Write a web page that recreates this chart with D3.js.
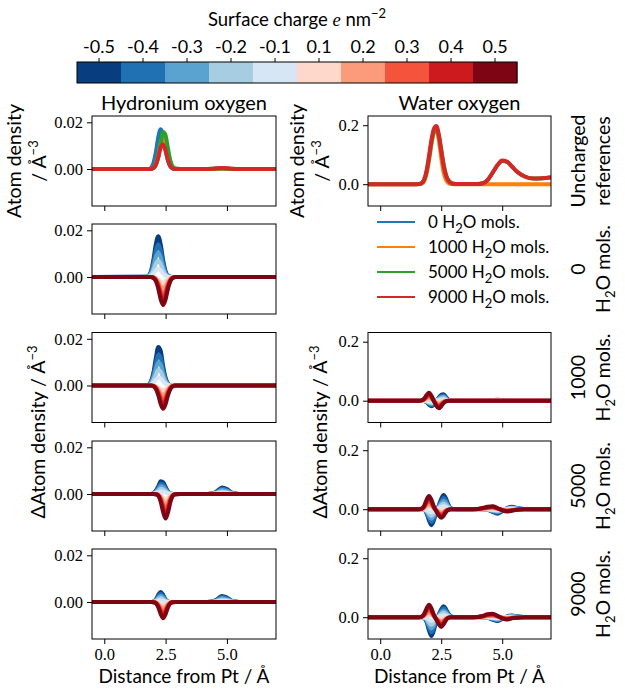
<!DOCTYPE html>
<html>
<head>
<meta charset="utf-8">
<script src="https://cdn.jsdelivr.net/npm/d3@7"></script>
<style>
  body { margin: 0; background: #fff; }
</style>
</head>
<body>
<svg id="chart" width="625" height="695"></svg>
<script>
// ---- data (densities in 10^-3 Å^-3) ----
const charges = [-0.5, -0.4, -0.3, -0.2, -0.1, 0.1, 0.2, 0.3, 0.4, 0.5];
const cbTickLabels = ['-0.5', '-0.4', '-0.3', '-0.2', '-0.1', '0.1', '0.2', '0.3', '0.4', '0.5'];
const chargeColors = ['#083d7f', '#2070b4', '#5aa2cf', '#a6cde2', '#d6e6f4',
                      '#fed9cb', '#fc9b7c', '#f5543c', '#cc1a1e', '#7e0614'];
const waterCounts = ['0', '1000', '5000', '9000'];
const refColors = ['#1f77b4', '#ff7f0e', '#2ca02c', '#d62728'];

const xTicks = [0, 2.5, 5];
const xTickLabels = ['0.0', '2.5', '5.0'];
const hydTicks = [0, 20];
const hydTickLabels = ['0.00', '0.02'];
const watTicks = [0, 200];
const watTickLabels = ['0.0', '0.2'];

// distance grids (Å)
const gridL1 = [-0.5, 1.7, 1.8, 1.9, 2.0, 2.1, 2.2, 2.3, 2.4, 2.5, 2.6, 2.7, 2.8, 2.9, 3.1, 7.0];
const gridL2 = [-0.5, 1.7, 1.8, 1.9, 2.0, 2.1, 2.2, 2.3, 2.4, 2.5, 2.6, 2.7, 2.8, 2.9, 3.1,
                4.2, 4.4, 4.6, 4.8, 5.0, 5.2, 5.4, 5.6, 7.0];
const gridR = [-0.5, 1.4, 1.6, 1.7, 1.8, 1.9, 2.0, 2.1, 2.2, 2.3, 2.4, 2.5, 2.6, 2.7, 2.8, 2.9, 3.0, 3.2, 3.6,
               4.0, 4.2, 4.4, 4.6, 4.8, 5.0, 5.2, 5.4, 5.6, 5.9, 6.3, 7.0];

// uncharged references, one curve per water count (no water curve for 0 mols.)
const hydRef = [
  [0, 0, 0, 0.5, 2.4, 7.0, 13.6, 17.0, 14.5, 8.5, 3.4, 0.9, 0.2, 0, 0, 0, 0, 0.1, 0.2, 0.1, 0, 0, 0, 0],
  [0, 0, 0, 0.1, 0.4, 2.0, 5.7, 11.2, 14.0, 11.2, 5.7, 2.0, 0.4, 0.1, 0, 0, 0, 0.1, 0.2, 0.1, 0, 0, 0, 0],
  [0, 0, 0, 0, 0.4, 1.6, 5.0, 10.8, 15.8, 14.4, 8.6, 3.4, 0.9, 0.2, 0, 0, 0.1, 0.2, 0.3, 0.2, 0.1, 0, 0, 0],
  [0, 0, 0, 0.1, 0.4, 1.8, 4.9, 9.2, 10.5, 7.6, 3.6, 1.1, 0.2, 0, 0, 0, 0.1, 0.3, 0.4, 0.3, 0.1, 0, 0, 0]
];
const watRef = [
  null,
  [0, 0, 0.3, 2, 10, 35, 80, 135, 175, 185, 150, 90, 40, 14, 4, 1, 0, 0, 0,  0, 0, 0, 0, 0, 0, 0, 0, 0, 0, 0, 0],
  [0, 0, 1, 4, 14, 42, 88, 140, 178, 186, 165, 118, 68, 32, 13, 5, 2, 0.5, 1,  1, 3, 14, 38, 63, 79, 76, 60, 43, 27, 19, 23],
  [0, 0, 1, 4, 15, 45, 95, 150, 188, 197, 170, 115, 62, 28, 11, 4, 1.5, 0.5, 1,  1, 3, 14, 38, 64, 80, 76, 60, 43, 27, 19, 24]
];

// charged minus uncharged, one curve per surface charge
const hydDelta0 = [
  [0, 0.1, 0.5, 2.4, 7.2, 14.0, 17.5, 14.0, 7.2, 2.4, 0.5, 0.1, 0, 0, 0, 0],
  [0, 0.1, 0.4, 1.9, 5.8, 11.2, 14.0, 11.2, 5.8, 1.9, 0.4, 0.1, 0, 0, 0, 0],
  [0, 0, 0.3, 1.4, 4.3, 8.4, 10.5, 8.4, 4.3, 1.4, 0.3, 0, 0, 0, 0, 0],
  [0, 0, 0.2, 1.0, 2.9, 5.6, 7.0, 5.6, 2.9, 1.0, 0.2, 0, 0, 0, 0, 0],
  [0, 0, 0.1, 0.5, 1.4, 2.8, 3.5, 2.8, 1.4, 0.5, 0.1, 0, 0, 0, 0, 0],
  [0, 0, 0, 0, -0.1, -0.3, -1.0, -1.9, -2.4, -1.9, -1.0, -0.3, -0.1, 0, 0, 0],
  [0, 0, 0, 0, -0.1, -0.7, -2.0, -3.8, -4.8, -3.8, -2.0, -0.7, -0.1, 0, 0, 0],
  [0, 0, 0, 0, -0.2, -1.0, -3.0, -5.8, -7.2, -5.8, -3.0, -1.0, -0.2, 0, 0, 0],
  [0, 0, 0, 0, -0.3, -1.3, -3.9, -7.7, -9.6, -7.7, -3.9, -1.3, -0.3, 0, 0, 0],
  [0, 0, 0, 0, -0.4, -1.7, -4.9, -9.6, -12.0, -9.6, -4.9, -1.7, -0.4, 0, 0, 0]
];
const hydDelta1000 = [
  [0, 0, 0.3, 1.7, 5.4, 11.6, 16.5, 14.9, 8.3, 3.3, 0.8, 0.1, 0, 0, 0, 0],
  [0, 0, 0.2, 1.4, 4.3, 9.3, 13.2, 11.9, 6.6, 2.6, 0.6, 0.1, 0, 0, 0, 0],
  [0, 0, 0.2, 1.0, 3.2, 7.0, 9.9, 8.9, 5.0, 2.0, 0.5, 0, 0, 0, 0, 0],
  [0, 0, 0.1, 0.7, 2.2, 4.6, 6.6, 6.0, 3.3, 1.3, 0.3, 0, 0, 0, 0, 0],
  [0, 0, 0.1, 0.3, 1.1, 2.3, 3.3, 3.0, 1.7, 0.7, 0.2, 0, 0, 0, 0, 0],
  [0, 0, 0, 0, 0, -0.3, -0.8, -1.6, -2.0, -1.6, -0.8, -0.3, 0, 0, 0, 0],
  [0, 0, 0, 0, -0.1, -0.6, -1.6, -3.2, -4.0, -3.2, -1.6, -0.6, -0.1, 0, 0, 0],
  [0, 0, 0, 0, -0.2, -0.8, -2.5, -4.8, -6.0, -4.8, -2.5, -0.8, -0.2, 0, 0, 0],
  [0, 0, 0, 0, -0.2, -1.1, -3.3, -6.4, -8.0, -6.4, -3.3, -1.1, -0.2, 0, 0, 0],
  [0, 0, 0, 0, -0.3, -1.4, -4.1, -8.0, -10.0, -8.0, -4.1, -1.4, -0.3, 0, 0, 0]
];
const hydDelta5000 = [
  [0, 0, 0, 0, 0.3, 1.4, 3.3, 5.5, 5.0, 3.0, 1.1, 0.3, 0, 0, 0,  0, 0.2, 1.3, 2.8, 2.1, 0.6, 0.1, 0, 0],
  [0, 0, 0, 0, 0.2, 1.1, 2.6, 4.4, 4.0, 2.4, 0.9, 0.2, 0, 0, 0,  0, 0.2, 1.0, 2.2, 1.7, 0.5, 0.1, 0, 0],
  [0, 0, 0, 0, 0.2, 0.8, 2.0, 3.3, 3.0, 1.8, 0.7, 0.2, 0, 0, 0,  0, 0.1, 0.8, 1.7, 1.3, 0.4, 0.1, 0, 0],
  [0, 0, 0, 0, 0.1, 0.6, 1.3, 2.2, 2.0, 1.2, 0.4, 0.1, 0, 0, 0,  0, 0.1, 0.5, 1.1, 0.8, 0.2, 0, 0, 0],
  [0, 0, 0, 0, 0.1, 0.3, 0.7, 1.1, 1.0, 0.6, 0.2, 0.1, 0, 0, 0,  0, 0, 0.3, 0.6, 0.4, 0.1, 0, 0, 0],
  [0, 0, 0, 0, 0, 0, -0.1, -0.7, -1.6, -2.1, -1.6, -0.7, -0.1, 0, 0,  0, 0, 0, 0, 0, 0, 0, 0, 0],
  [0, 0, 0, 0, 0, 0, -0.3, -1.3, -3.1, -4.2, -3.1, -1.3, -0.3, 0, 0,  0, 0, 0, 0, 0, 0, 0, 0, 0],
  [0, 0, 0, 0, 0, -0.1, -0.4, -2.0, -4.7, -6.3, -4.7, -2.0, -0.4, -0.1, 0,  0, 0, 0, 0, 0, 0, 0, 0, 0],
  [0, 0, 0, 0, 0, -0.1, -0.6, -2.6, -6.2, -8.4, -6.2, -2.6, -0.6, -0.1, 0,  0, 0, 0, 0, 0, 0, 0, 0, 0],
  [0, 0, 0, 0, 0, -0.1, -0.7, -3.3, -7.8, -10.5, -7.8, -3.3, -0.7, -0.1, 0,  0, 0, 0, 0, 0, 0, 0, 0, 0]
];
const hydDelta9000 = [
  [0, 0, 0, 0, 0.2, 1.1, 3.1, 4.3, 3.1, 1.1, 0.2, 0, 0, 0, 0,  0, 0.2, 1.2, 2.6, 1.9, 0.6, 0.1, 0, 0],
  [0, 0, 0, 0, 0.2, 0.9, 2.5, 3.4, 2.5, 0.9, 0.2, 0, 0, 0, 0,  0, 0.2, 1.0, 2.1, 1.5, 0.5, 0.1, 0, 0],
  [0, 0, 0, 0, 0.1, 0.7, 1.9, 2.6, 1.9, 0.7, 0.1, 0, 0, 0, 0,  0, 0.1, 0.7, 1.6, 1.1, 0.4, 0, 0, 0],
  [0, 0, 0, 0, 0.1, 0.4, 1.2, 1.7, 1.2, 0.4, 0.1, 0, 0, 0, 0,  0, 0.1, 0.5, 1.0, 0.8, 0.2, 0, 0, 0],
  [0, 0, 0, 0, 0, 0.2, 0.6, 0.9, 0.6, 0.2, 0, 0, 0, 0, 0,  0, 0, 0.2, 0.5, 0.4, 0.1, 0, 0, 0],
  [0, 0, 0, 0, 0, -0.1, -0.4, -1.0, -1.4, -1.0, -0.4, -0.1, 0, 0, 0,  0, 0, 0, 0, 0, 0, 0, 0, 0],
  [0, 0, 0, 0, 0, -0.2, -0.9, -2.1, -2.8, -2.1, -0.9, -0.2, 0, 0, 0,  0, 0, 0, 0, 0, 0, 0, 0, 0],
  [0, 0, 0, 0, 0, -0.3, -1.3, -3.1, -4.2, -3.1, -1.3, -0.3, 0, 0, 0,  0, 0, 0, 0, 0, 0, 0, 0, 0],
  [0, 0, 0, 0, -0.1, -0.4, -1.8, -4.2, -5.6, -4.2, -1.8, -0.4, -0.1, 0, 0,  0, 0, 0, 0, 0, 0, 0, 0, 0],
  [0, 0, 0, 0, -0.1, -0.5, -2.2, -5.2, -7.0, -5.2, -2.2, -0.5, -0.1, 0, 0,  0, 0, 0, 0, 0, 0, 0, 0, 0]
];
const watDelta1000 = [
  [0, 0, 0, 0, -1, -5, -14, -19, -13, -1, 10, 20, 22, 12, 3, 1, 0, 0, 0,  0, 0, 0.3, 1.5, 3, 2, 0.5, 0, 0, 0, 0, 0],
  [0, 0, 0, 0, -1, -4, -11, -15, -10, -1, 8, 16, 18, 10, 2, 1, 0, 0, 0,  0, 0, 0.2, 1.2, 2.4, 1.6, 0.4, 0, 0, 0, 0, 0],
  [0, 0, 0, 0, -1, -3, -8, -11, -8, -1, 6, 12, 13, 7, 2, 1, 0, 0, 0,  0, 0, 0.2, 0.9, 1.8, 1.2, 0.3, 0, 0, 0, 0, 0],
  [0, 0, 0, 0, 0, -2, -6, -8, -5, 0, 4, 8, 9, 5, 1, 0, 0, 0, 0,  0, 0, 0.1, 0.6, 1.2, 0.8, 0.2, 0, 0, 0, 0, 0],
  [0, 0, 0, 0, 0, -1, -3, -4, -3, 0, 2, 4, 4, 2, 1, 0, 0, 0, 0,  0, 0, 0, 0.3, 0.6, 0.4, 0.1, 0, 0, 0, 0, 0],
  [0, 0, 0, 0, 1, 4, 5, 3, 0, -4, -5, -4, -2, 0, 0, 0, 0, 0, 0,  0, 0, 0, 0, 0, 0, 0, 0, 0, 0, 0, 0],
  [0, 0, 0, 0, 3, 8, 11, 7, 0, -7, -10, -8, -3, -1, 0, 0, 0, 0, 0,  0, 0, 0, 0, 0, 0, 0, 0, 0, 0, 0, 0],
  [0, 0, 0, 1, 4, 11, 16, 10, -1, -11, -16, -11, -5, -1, 0, 0, 0, 0, 0,  0, 0, 0, 0, 0, 0, 0, 0, 0, 0, 0, 0],
  [0, 0, 0, 1, 5, 15, 22, 14, -1, -14, -21, -15, -6, -2, 0, 0, 0, 0, 0,  0, 0, 0, 0, 0, 0, 0, 0, 0, 0, 0, 0],
  [0, 0, 0, 1, 7, 19, 27, 17, -1, -18, -26, -19, -8, -2, 0, 0, 0, 0, 0,  0, 0, 0, 0, 0, 0, 0, 0, 0, 0, 0, 0]
];
const watDelta5000 = [
  [0, 0, 0, 0, -2, -14, -38, -54, -38, -10, 13, 35, 48, 36, 15, 3, 0.5, 0, 0,  0, 0, -2, -9, -15, -7, 4, 8, 4, 0.5, 0, 0],
  [0, 0, 0, 0, -2, -11, -30, -43, -30, -8, 10, 28, 38, 29, 12, 2, 0.4, 0, 0,  0, 0, -2, -7, -12, -6, 3, 6, 3, 0.4, 0, 0],
  [0, 0, 0, 0, -1, -8, -23, -32, -23, -6, 8, 21, 29, 22, 9, 2, 0.3, 0, 0,  0, 0, -1, -5, -9, -4, 2, 5, 2, 0.3, 0, 0],
  [0, 0, 0, 0, -1, -6, -15, -22, -15, -4, 5, 14, 19, 14, 6, 1, 0, 0, 0,  0, 0, -1, -4, -6, -3, 2, 3, 2, 0, 0, 0],
  [0, 0, 0, 0, 0, -3, -8, -11, -8, -2, 3, 7, 10, 7, 3, 1, 0, 0, 0,  0, 0, 0, -2, -3, -1, 1, 2, 1, 0, 0, 0],
  [0, 0, 0, 0, 2, 6, 9, 6, 2, -1, -4, -6, -4, -2, 0, 0, 0, 0, 0,  0, 1, 2, 2, 1, -1, -2, -1, 0, 0, 0, 0],
  [0, 0, 0, 1, 4, 13, 18, 13, 4, -3, -8, -12, -9, -4, -1, 0, 0, 0, 0,  0, 2, 3, 4, 2, -2, -3, -2, -1, 0, 0, 0],
  [0, 0, 0, 1, 7, 19, 27, 19, 5, -4, -13, -17, -13, -5, -1, 0, 0, 0, 0,  1, 2, 5, 6, 2, -2, -5, -3, -1, -0.3, 0, 0],
  [0, 0, 0, 2, 9, 26, 36, 26, 7, -6, -17, -23, -18, -7, -2, 0, 0, 0, 0,  1, 3, 6, 8, 3, -3, -6, -4, -2, -0.4, 0, 0],
  [0, 0, 0, 2, 11, 32, 45, 32, 9, -7, -21, -29, -22, -9, -2, 0, 0, 0, 0,  1, 4, 8, 10, 4, -4, -8, -5, -2, -0.5, 0, 0]
];
const watDelta9000 = [
  [0, 0, 0, 0, -3, -16, -45, -64, -45, -13, 9, 27, 37, 27, 12, 3, 0.4, 0, 0,  0, 0, -2, -8, -13, -6, 3, 6, 3, 0.3, 0, 0],
  [0, 0, 0, 0, -2, -13, -36, -51, -36, -10, 7, 22, 30, 22, 10, 2, 0.3, 0, 0,  0, 0, -2, -6, -10, -5, 2, 5, 2, 0.2, 0, 0],
  [0, 0, 0, 0, -2, -10, -27, -38, -27, -8, 5, 16, 22, 16, 7, 2, 0.2, 0, 0,  0, 0, -1, -5, -8, -4, 2, 4, 2, 0.2, 0, 0],
  [0, 0, 0, 0, -1, -6, -18, -26, -18, -5, 4, 11, 15, 11, 5, 1, 0, 0, 0,  0, 0, -1, -3, -5, -2, 1, 2, 1, 0, 0, 0],
  [0, 0, 0, 0, -1, -3, -9, -13, -9, -3, 2, 5, 7, 5, 2, 1, 0, 0, 0,  0, 0, 0, -2, -3, -1, 1, 1, 1, 0, 0, 0],
  [0, 0, 0, 0, 2, 6, 8, 6, 2, -2, -5, -7, -5, -2, 0, 0, 0, 0, 0,  0, 1, 2, 2, 1, -1, -2, -1, 0, 0, 0, 0],
  [0, 0, 0, 1, 4, 12, 17, 12, 3, -4, -10, -13, -10, -4, -1, 0, 0, 0, 0,  0, 2, 4, 5, 2, -2, -3, -2, -1, 0, 0, 0],
  [0, 0, 0.1, 1, 7, 18, 25, 18, 5, -5, -14, -20, -14, -6, -1, 0, 0, 0, 0,  1, 2, 6, 7, 3, -2, -5, -2, -1, -0.3, 0, 0],
  [0, 0, 0.2, 2, 9, 24, 34, 24, 6, -7, -19, -26, -19, -8, -2, 0, 0, 0, 0,  1, 3, 8, 10, 4, -3, -6, -3, -2, -0.4, 0, 0],
  [0, 0, 0.2, 2, 11, 30, 42, 30, 8, -9, -24, -33, -24, -10, -2, 0, 0, 0, 0,  1, 4, 10, 12, 5, -4, -8, -4, -2, -0.5, 0, 0]
];

// ---- layout ----
const sans = "Lato, 'Open Sans', 'DejaVu Sans', sans-serif";
const serif = "'Liberation Serif', 'DejaVu Serif', serif";
const colLeft = [92, 368];
const colWidth = [184, 183];
const rowTop = [116, 224, 332.5, 441, 549];
const rowH = 90;
const xDomain = [-0.5, 7];
const hydDomain = [-15.85, 22.7];
const watDomain = [-73.9, 231.2];

const svg = d3.select('#chart');

function drawPanel(col, row, grid, series, colors, yDomain, yTicks, yTickLabels) {
  const x = d3.scaleLinear().domain(xDomain).range([0, colWidth[col]]);
  const y = d3.scaleLinear().domain(yDomain).range([rowH, 0]);
  const g = svg.append('g').attr('transform', `translate(${colLeft[col]},${rowTop[row]})`);

  const clipId = `clip-${col}-${row}`;
  g.append('clipPath').attr('id', clipId)
    .append('rect').attr('width', colWidth[col]).attr('height', rowH);

  const line = d3.line()
    .x((d, i) => x(grid[i]))
    .y(d => y(d))
    .curve(d3.curveMonotoneX);

  g.append('g').attr('clip-path', `url(#${clipId})`)
    .selectAll('path')
    .data(series.map((s, i) => ({ s, c: colors[i] })).filter(d => d.s))
    .join('path')
    .attr('d', d => line(d.s))
    .attr('fill', 'none')
    .attr('stroke', d => d.c)
    .attr('stroke-width', 4)
    .attr('stroke-linejoin', 'round');

  const yAxis = g.append('g')
    .call(d3.axisLeft(y).tickValues(yTicks)
      .tickFormat((d, i) => yTickLabels[i]).tickSize(5).tickPadding(4));
  const showX = row === 4;
  const xAxis = g.append('g').attr('transform', `translate(0,${rowH})`)
    .call(d3.axisBottom(x).tickValues(xTicks)
      .tickFormat((d, i) => showX ? xTickLabels[i] : '').tickSize(5).tickPadding(4));

  [yAxis, xAxis].forEach(a => {
    a.select('.domain').remove();
    a.selectAll('line').attr('stroke', '#000');
    a.selectAll('text').attr('font-family', serif).attr('font-size', 16.5).attr('fill', '#000');
  });

  g.append('rect')
    .attr('width', colWidth[col]).attr('height', rowH)
    .attr('fill', 'none').attr('stroke', '#000').attr('stroke-width', 1);
}

drawPanel(0, 0, gridL2, hydRef, refColors, hydDomain, hydTicks, hydTickLabels);
drawPanel(1, 0, gridR, watRef, refColors, watDomain, watTicks, watTickLabels);
drawPanel(0, 1, gridL1, hydDelta0, chargeColors, hydDomain, hydTicks, hydTickLabels);
drawPanel(0, 2, gridL1, hydDelta1000, chargeColors, hydDomain, hydTicks, hydTickLabels);
drawPanel(0, 3, gridL2, hydDelta5000, chargeColors, hydDomain, hydTicks, hydTickLabels);
drawPanel(0, 4, gridL2, hydDelta9000, chargeColors, hydDomain, hydTicks, hydTickLabels);
drawPanel(1, 2, gridR, watDelta1000, chargeColors, watDomain, watTicks, watTickLabels);
drawPanel(1, 3, gridR, watDelta5000, chargeColors, watDomain, watTicks, watTickLabels);
drawPanel(1, 4, gridR, watDelta9000, chargeColors, watDomain, watTicks, watTickLabels);

// ---- colour bar ----
const cb = d3.scaleBand().domain(charges).range([77, 517]);
svg.append('g').selectAll('rect')
  .data(charges)
  .join('rect')
  .attr('x', d => cb(d))
  .attr('y', 62)
  .attr('width', cb.bandwidth() + 0.5)
  .attr('height', 21)
  .attr('fill', (d, i) => chargeColors[i]);
svg.append('rect').attr('x', 77).attr('y', 62).attr('width', 440).attr('height', 21)
  .attr('fill', 'none').attr('stroke', '#000').attr('stroke-width', 1);
const cbAxis = svg.append('g').attr('transform', 'translate(0,62)')
  .call(d3.axisTop(cb).tickFormat((d, i) => cbTickLabels[i]).tickSize(4).tickPadding(5));
cbAxis.select('.domain').remove();
cbAxis.selectAll('line').attr('stroke', '#000');
cbAxis.selectAll('text').attr('font-family', sans).attr('font-size', 18).attr('fill', '#000');

const cbTitle = svg.append('text').attr('x', 297).attr('y', 26)
  .attr('text-anchor', 'middle').attr('font-family', sans).attr('font-size', 18.5);
cbTitle.append('tspan').text('Surface charge ');
cbTitle.append('tspan').attr('font-family', serif).attr('font-style', 'italic').text('e');
cbTitle.append('tspan').text(' nm');
cbTitle.append('tspan').attr('dy', -8).attr('font-size', 13).text('\u22122');

// ---- titles and axis labels ----
function addText(x, y, size, rotate) {
  return svg.append('text')
    .attr('transform', `translate(${x},${y})` + (rotate ? ' rotate(-90)' : ''))
    .attr('text-anchor', 'middle').attr('font-family', sans).attr('font-size', size).attr('fill', '#000');
}
function addAngstrom(t, prefix) {
  t.append('tspan').text(prefix + 'Å');
  t.append('tspan').attr('dy', -8).attr('font-size', 13).text('\u22123');
}
function addWater(t, count) {
  if (count) t.append('tspan').text(count + ' ');
  t.append('tspan').text('H');
  t.append('tspan').attr('dy', 5).attr('font-size', 13).text('2');
  t.append('tspan').attr('dy', -5).text('O mols.');
}

addText(184, 110, 20).text('Hydronium oxygen');
addText(459.5, 110, 20).text('Water oxygen');
addText(184, 683, 19).text('Distance from Pt / Å');
addText(459.5, 683, 19).text('Distance from Pt / Å');

addText(21, 161, 19.5, true).text('Atom density');
addAngstrom(addText(46, 161, 19.5, true), '/ ');
addText(304, 161, 19.5, true).text('Atom density');
addAngstrom(addText(329, 161, 19.5, true), '/ ');

addAngstrom(addText(45, 432, 19.5, true), 'ΔAtom density / ');
addAngstrom(addText(327, 432, 19.5, true), 'ΔAtom density / ');

// row labels on the right
const rowLabels = [['Uncharged', 'references'], ['0'], ['1000'], ['5000'], ['9000']];
rowLabels.forEach((lab, r) => {
  const cy = rowTop[r] + rowH / 2;
  addText(585, cy, 19.5, true).text(lab[0]);
  const t2 = addText(610, cy, 19.5, true);
  if (r === 0) t2.text(lab[1]);
  else addWater(t2, '');
});

// ---- legend ----
const legendY = [222, 247, 272, 297];
waterCounts.forEach((w, i) => {
  svg.append('line')
    .attr('x1', 377).attr('x2', 415).attr('y1', legendY[i]).attr('y2', legendY[i])
    .attr('stroke', refColors[i]).attr('stroke-width', 2);
  const t = svg.append('text').attr('x', 428).attr('y', legendY[i] + 6)
    .attr('font-family', sans).attr('font-size', 17).attr('fill', '#000');
  addWater(t, w);
});
</script>
</body>
</html>
